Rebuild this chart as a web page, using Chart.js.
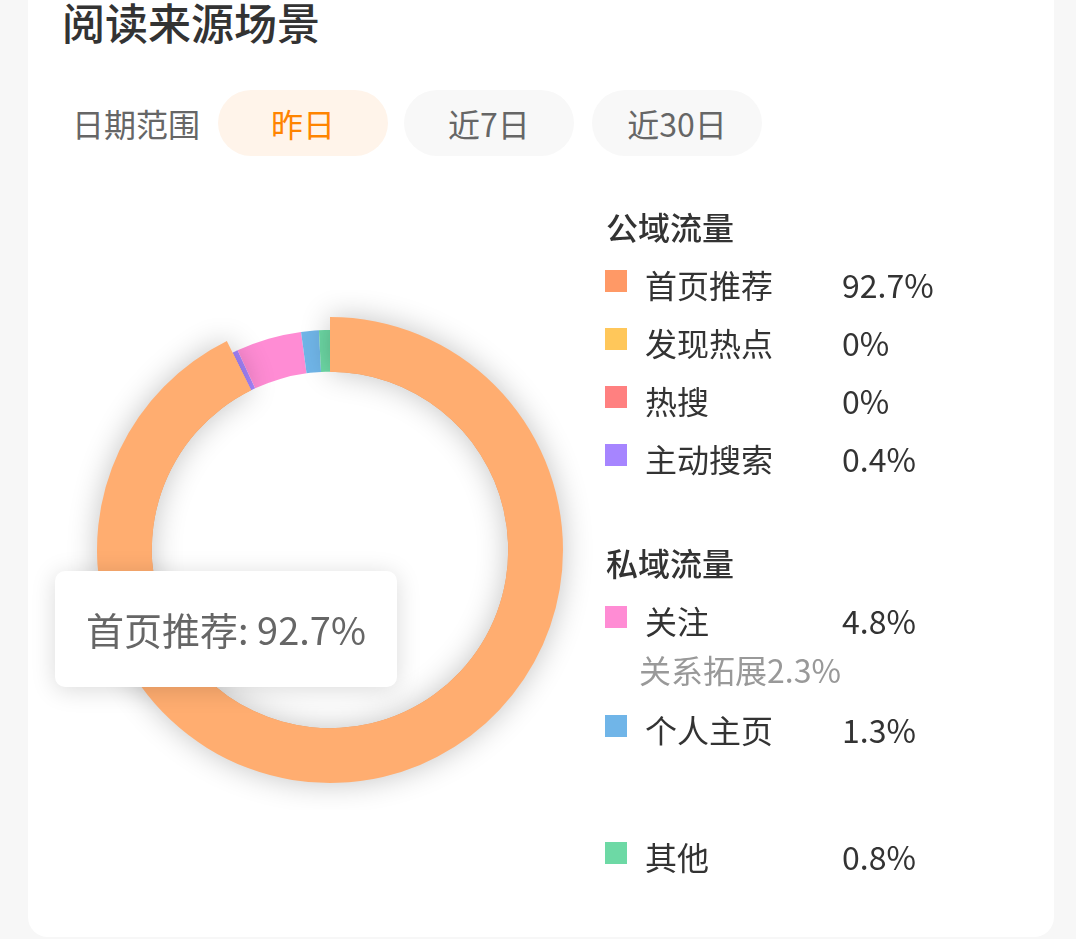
<!DOCTYPE html>
<html>
<head>
<meta charset="utf-8">
<script src="https://cdn.jsdelivr.net/npm/chart.js@4.4.1/dist/chart.umd.min.js"></script>
<style>
  body { margin: 0; width: 1076px; height: 939px; background: #f7f7f7; overflow: hidden;
    font-family: "Noto Sans CJK SC", "Noto Sans", sans-serif; position: relative; }
  .card { position: absolute; left: 28px; top: -40px; width: 1026px; height: 977px; background: #fff; border-radius: 20px; }
  .title { position: absolute; left: 62px; top: -4px; font-size: 43px; line-height: 50px; font-weight: 500; color: #333; }
  .range-label { position: absolute; left: 72px; top: 90px; font-size: 32px; line-height: 66px; color: #666; }
  .pill { position: absolute; top: 90px; width: 170px; height: 66px; line-height: 66px; border-radius: 33px;
    text-align: center; font-size: 32px; background: #f8f8f8; color: #666; }
  .pill.on { background: #fff4ea; color: #ff8400; }
  #wrap { position: absolute; left: 45px; top: 290px; width: 570px; height: 520px; }
  #tip { position: absolute; background: #fff; border-radius: 10px; padding: 38px 31px; font-size: 38px; line-height: 40px;
    color: #666; white-space: nowrap; box-shadow: 0 3px 24px rgba(0,0,0,0.15); transform: translateY(-50%); display: none; }
  #legend { position: absolute; left: 605px; top: 197px; width: 420px; }
  .lg-head { height: 58px; line-height: 58px; font-size: 32px; font-weight: 500; color: #333; padding-left: 1px; }
  .lg-row { height: 58px; display: flex; align-items: center; font-size: 32px; color: #333; }
  .lg-box { width: 22px; height: 22px; margin-right: 18px; margin-top: -6px; }
  .lg-name { width: 197px; }
  .lg-sub { height: 40px; line-height: 40px; padding-left: 34px; margin-bottom: 11px; font-size: 32px; color: #999; }
</style>
</head>
<body>
<div class="card"></div>
<div class="title">阅读来源场景</div>
<div class="range-label">日期范围</div>
<div class="pill on" style="left:218px">昨日</div>
<div class="pill" style="left:404px">近7日</div>
<div class="pill" style="left:592px">近30日</div>
<div id="wrap"><canvas id="chart"></canvas><div id="tip"></div></div>
<div id="legend"></div>
<script>
const labels = ['首页推荐', '发现热点', '热搜', '主动搜索', '关注', '个人主页', '其他'];
const values = [92.7, 0, 0, 0.4, 4.8, 1.3, 0.8];
const colors = ['#ff9966', '#ffc75a', '#ff8080', '#a685ff', '#ff8cd4', '#70b5e8', '#6dd9a5'];
const hoverColors = ['#ffad70', '#ffc75a', '#ff8080', '#a685ff', '#ff8cd4', '#70b5e8', '#6dd9a5'];
const publicItems = [0, 1, 2, 3];
const privateItems = [4, 5];
const otherItems = [6];
const subNotes = { 4: '关系拓展2.3%' };

function row(i) {
  let html = `<div class="lg-row"><span class="lg-box" style="background:${colors[i]}"></span>` +
    `<span class="lg-name">${labels[i]}</span><span>${values[i]}%</span></div>`;
  if (subNotes[i]) html += `<div class="lg-sub">${subNotes[i]}</div>`;
  return html;
}

document.getElementById('legend').innerHTML =
  `<div class="lg-head">公域流量</div>` + publicItems.map(row).join('') +
  `<div class="lg-head" style="margin-top:46px">私域流量</div>` + privateItems.map(row).join('') +
  `<div style="margin-top:69px">` + otherItems.map(row).join('') + `</div>`;

// redraw hovered slice bigger with a soft shadow
const hoverGlow = {
  id: 'hoverGlow',
  afterDatasetsDraw(chart) {
    const ctx = chart.ctx;
    chart.getActiveElements().forEach(a => {
      const el = a.element;
      ctx.save();
      ctx.shadowColor = 'rgba(0,0,0,0.24)';
      ctx.shadowBlur = 30;
      el.outerRadius += 13;
      el.draw(ctx, chart.chartArea);
      el.outerRadius -= 13;
      ctx.restore();
    });
  }
};

Chart.Tooltip.positioners.fixed = (elements, eventPosition) => eventPosition;

const tip = document.getElementById('tip');

const chart = new Chart(document.getElementById('chart'), {
  type: 'doughnut',
  data: {
    labels,
    datasets: [{
      data: values,
      backgroundColor: colors,
      hoverBackgroundColor: hoverColors,
      borderWidth: 0,
      hoverOffset: 0
    }]
  },
  options: {
    responsive: true,
    maintainAspectRatio: false,
    animation: false,
    events: [],
    cutout: '81%',
    layout: { padding: 40 },
    plugins: {
      legend: { display: false },
      tooltip: {
        enabled: false,
        position: 'fixed',
        callbacks: { label: c => `${c.label}: ${c.parsed}%` },
        external({ tooltip }) {
          if (tooltip.opacity === 0) { tip.style.display = 'none'; return; }
          tip.textContent = tooltip.body.map(b => b.lines.join('')).join('');
          tip.style.display = 'block';
          tip.style.left = tooltip.caretX + 'px';
          tip.style.top = tooltip.caretY + 'px';
        }
      }
    }
  },
  plugins: [hoverGlow]
});

const arc = chart.getDatasetMeta(0).data[0];
const active = [{ datasetIndex: 0, index: 0 }];
chart.setActiveElements(active);
chart.tooltip.setActiveElements(active, { x: arc.x - arc.outerRadius * 1.25, y: arc.y + arc.outerRadius * 0.36 });
chart.update();
</script>
</body>
</html>
